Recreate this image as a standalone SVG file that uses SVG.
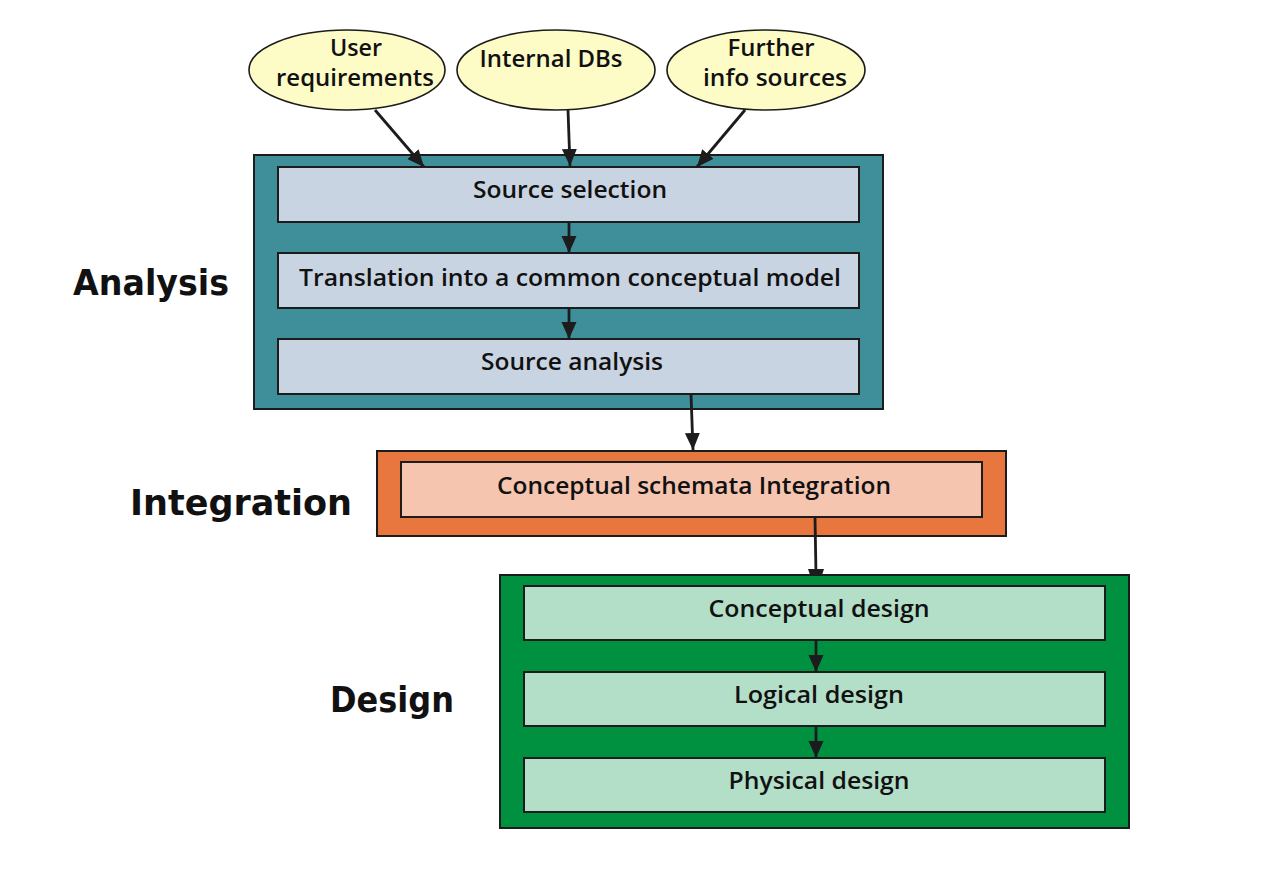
<svg xmlns="http://www.w3.org/2000/svg" width="1280" height="877" viewBox="0 0 1280 877">
<style>
.bg{fill:#ffffff}
.oval{fill:#fdfbc6;stroke:#1c1c1c;stroke-width:1.6}
.box{stroke:#1c1c1c;stroke-width:2}
.teal{fill:#3f8f9b}
.blue{fill:#c9d4e2}
.orange{fill:#e8773f}
.peach{fill:#f5c5b0}
.green{fill:#009140}
.mint{fill:#b3dec7}
.t{font-family:"Open Sans","Noto Sans","Liberation Sans",sans-serif;font-weight:600;font-size:24px;fill:#111;text-anchor:middle}
.lbl{font-family:"DejaVu Sans","Liberation Sans",sans-serif;font-weight:bold;font-size:35px;fill:#111}
.c{stroke:#1c1c1c;stroke-width:2.8;fill:none}
</style>
<defs>
<marker id="ah" markerUnits="userSpaceOnUse" markerWidth="18" markerHeight="18" viewBox="0 0 18 18" refX="17" refY="9" orient="auto">
<path d="M0,1.5 L17,9 L0,16.5 Z" fill="#1c1c1c"/>
</marker>
</defs>
<rect class="bg" x="0" y="0" width="1280" height="877"/>
<text class="lbl" x="1046" y="-9" font-size="62">g</text>

<g id="labels">
<text class="lbl" x="73" y="295" textLength="156" lengthAdjust="spacingAndGlyphs">Analysis</text>
<text class="lbl" x="130" y="515" textLength="222" lengthAdjust="spacingAndGlyphs">Integration</text>
<text class="lbl" x="330" y="712" textLength="124" lengthAdjust="spacingAndGlyphs">Design</text>
</g>

<g id="user-req">
<ellipse class="oval" cx="347" cy="70" rx="98" ry="40"/>
<text class="t" x="356" y="56" textLength="52" lengthAdjust="spacingAndGlyphs">User</text>
<text class="t" x="355" y="86" textLength="158" lengthAdjust="spacingAndGlyphs">requirements</text>
</g>
<g id="internal-dbs">
<ellipse class="oval" cx="556" cy="70" rx="99" ry="40"/>
<text class="t" x="551" y="67" textLength="143" lengthAdjust="spacingAndGlyphs">Internal DBs</text>
</g>
<g id="further-info">
<ellipse class="oval" cx="766" cy="70" rx="99" ry="40"/>
<text class="t" x="771" y="56" textLength="87" lengthAdjust="spacingAndGlyphs">Further</text>
<text class="t" x="775" y="86" textLength="144" lengthAdjust="spacingAndGlyphs">info sources</text>
</g>

<g id="analysis">
<rect class="box teal" x="254" y="155" width="629" height="254"/>
</g>
<g id="source-selection">
<rect class="box blue" x="278" y="167" width="581" height="55"/>
<text class="t" x="570" y="198" textLength="194" lengthAdjust="spacingAndGlyphs">Source selection</text>
</g>
<g id="translation">
<rect class="box blue" x="278" y="253" width="581" height="55"/>
<text class="t" x="570" y="286" textLength="542" lengthAdjust="spacingAndGlyphs">Translation into a common conceptual model</text>
</g>
<g id="source-analysis">
<rect class="box blue" x="278" y="339" width="581" height="55"/>
<text class="t" x="572" y="370" textLength="182" lengthAdjust="spacingAndGlyphs">Source analysis</text>
</g>

<g id="integration">
<rect class="box orange" x="377" y="451" width="629" height="85"/>
</g>
<g id="schemata-integration">
<rect class="box peach" x="401" y="462" width="581" height="55"/>
<text class="t" x="694" y="494" textLength="394" lengthAdjust="spacingAndGlyphs">Conceptual schemata Integration</text>
</g>

<g id="design">
<rect class="box green" x="500" y="575" width="629" height="253"/>
</g>
<g id="conceptual-design">
<rect class="box mint" x="524" y="586" width="581" height="54"/>
<text class="t" x="819" y="617" textLength="221" lengthAdjust="spacingAndGlyphs">Conceptual design</text>
</g>
<g id="logical-design">
<rect class="box mint" x="524" y="672" width="581" height="54"/>
<text class="t" x="819" y="703" textLength="170" lengthAdjust="spacingAndGlyphs">Logical design</text>
</g>
<g id="physical-design">
<rect class="box mint" x="524" y="758" width="581" height="54"/>
<text class="t" x="819" y="789" textLength="181" lengthAdjust="spacingAndGlyphs">Physical design</text>
</g>

<g id="connectors">
<line class="c" x1="375" y1="110" x2="424" y2="167" marker-end="url(#ah)"/>
<line class="c" x1="568" y1="110" x2="570" y2="166" marker-end="url(#ah)"/>
<line class="c" x1="745" y1="110" x2="697" y2="167" marker-end="url(#ah)"/>
<line class="c" x1="569" y1="222" x2="569" y2="253" marker-end="url(#ah)"/>
<line class="c" x1="569" y1="308" x2="569" y2="339" marker-end="url(#ah)"/>
<line class="c" x1="691" y1="394" x2="693" y2="450" marker-end="url(#ah)"/>
<line class="c" x1="815" y1="517" x2="816" y2="575"/>
<path d="M808,569 L824,569 L822,575 L810,575 Z" fill="#1c1c1c"/>
<line class="c" x1="816" y1="640" x2="816" y2="672" marker-end="url(#ah)"/>
<line class="c" x1="816" y1="726" x2="816" y2="758" marker-end="url(#ah)"/>
</g>
</svg>
